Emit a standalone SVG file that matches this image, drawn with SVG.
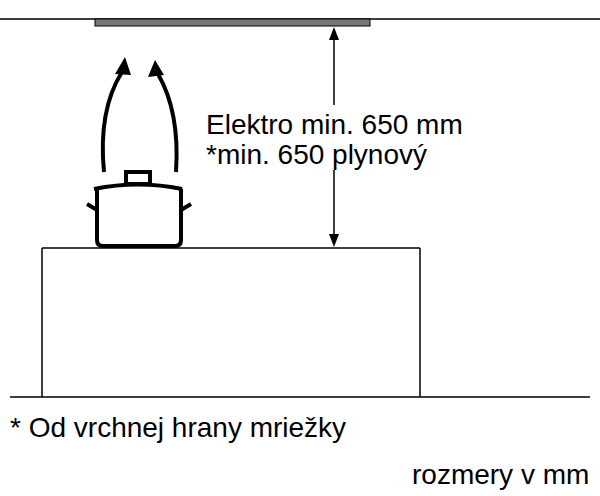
<svg xmlns="http://www.w3.org/2000/svg" width="600" height="496" viewBox="0 0 600 496">
<style>
.t{font-family:"Liberation Sans",Arial,sans-serif;font-size:28px;fill:#000}
.thin{stroke:#000;stroke-width:1.5;fill:none}
.thick{stroke:#000;stroke-width:4;fill:none}
</style>
<g id="ceiling"><line class="thin" x1="0" y1="19" x2="600" y2="19"/><rect x="95" y="19" width="275" height="7" fill="#777" stroke="#000" stroke-width="1"/></g>
<g id="cabinet"><line class="thin" x1="42" y1="248" x2="420" y2="248"/><line class="thin" x1="42" y1="248" x2="42" y2="397"/><line class="thin" x1="420" y1="248" x2="420" y2="397"/></g>
<g id="floor"><line class="thin" x1="10" y1="397" x2="590" y2="397"/></g>
<g id="pot">
<path class="thick" d="M97,189 V240 Q97,246 103,246 H175 Q181,246 181,240 V189"/>
<path class="thick" d="M94,189 Q138,180 182,189"/>
<rect x="126" y="172" width="24" height="12" class="thick"/>
<path class="thick" d="M97,210 L87,204 M181,210 L191,204"/>
</g>
<g id="connectors">
<path class="thick" d="M104,172 Q98,110 122,72"/>
<polygon points="125,57 115,74 131,75"/>
<path class="thick" d="M176,172 Q180,112 158,74"/>
<polygon points="155,60 148,77 164,75"/>
<line class="thin" x1="334" y1="38" x2="334" y2="105"/>
<polygon points="334,27 329,40 339,40"/>
<line class="thin" x1="334" y1="170" x2="334" y2="236"/>
<polygon points="334,247 329,234 339,234"/>
</g>
<text class="t" x="206" y="134">Elektro min. 650 mm</text>
<text class="t" x="206" y="164">*min. 650 plynový</text>
<text class="t" x="10" y="437">* Od vrchnej hrany mriežky</text>
<text class="t" x="412" y="484">rozmery v mm</text>
</svg>
